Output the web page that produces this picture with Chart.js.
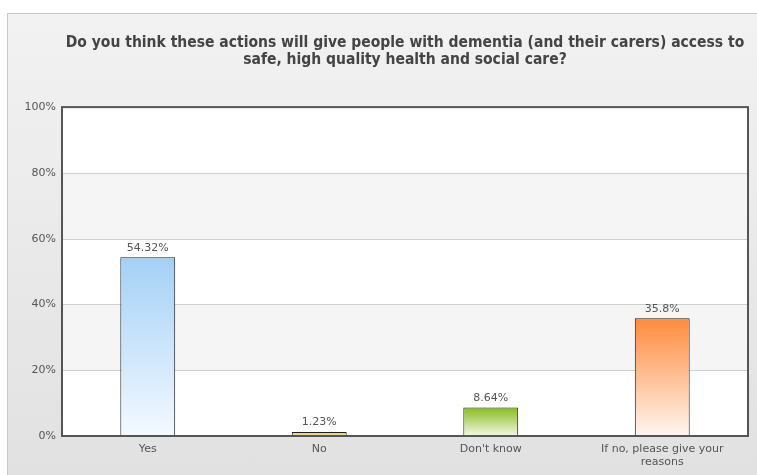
<!DOCTYPE html>
<html>
<head>
<meta charset="utf-8">
<script src="https://cdn.jsdelivr.net/npm/chart.js@4/dist/chart.umd.min.js"></script>
<style>
  html, body { margin: 0; padding: 0; background: #fff; }
  #panel {
    position: absolute; left: 7px; top: 13px; width: 750px; height: 462px;
    border-left: 1px solid #c8c8c8; border-top: 1px solid #c8c8c8;
    background: linear-gradient(#f2f2f2, #e1e1e1);
  }
  #wrap { position: absolute; left: 0; top: 0; width: 749px; height: 461px; }
</style>
</head>
<body>
<div id="panel"><div id="wrap"><canvas id="chart"></canvas></div></div>
<script>
// chart data
const categories = ['Yes', 'No', "Don't know", ['If no, please give your', 'reasons']];
const values = [54.32, 1.23, 8.64, 35.8];
const topColors = ['#a4d0f5', '#e3c760', '#89bb1c', '#ff8a3c'];
const bottomColors = ['#f4f9ff', '#f3e6a8', '#f3f8e6', '#fff6f0'];
const yTicks = [0, 20, 40, 60, 80, 100];
const titleLines = ['Do you think these actions will give people with dementia (and their carers) access to',
                    'safe, high quality health and social care?'];

const labelFont = '11px "DejaVu Sans", Verdana, sans-serif';

// white/grey bands + frame
const bandsPlugin = {
    id: 'bands',
    beforeDatasetsDraw(chart) {
        const { ctx, chartArea: a, scales: { y } } = chart;
        ctx.save();
        for (let i = 0; i < yTicks.length - 1; i++) {
            const y0 = y.getPixelForValue(yTicks[i]);
            const y1 = y.getPixelForValue(yTicks[i + 1]);
            ctx.fillStyle = i % 2 === 1 ? '#f5f5f5' : '#ffffff';
            ctx.fillRect(a.left, y1, a.right - a.left, y0 - y1);
            if (i > 0) {
                ctx.strokeStyle = '#cfcfcf';
                ctx.lineWidth = 1;
                ctx.beginPath();
                ctx.moveTo(a.left, Math.round(y0) + 0.5);
                ctx.lineTo(a.right, Math.round(y0) + 0.5);
                ctx.stroke();
            }
        }
        ctx.restore();
    },
    afterDatasetsDraw(chart) {
        const { ctx, chartArea: a } = chart;
        ctx.save();
        // value labels over bars
        ctx.font = labelFont;
        ctx.fillStyle = '#555';
        ctx.textAlign = 'center';
        ctx.textBaseline = 'bottom';
        chart.getDatasetMeta(0).data.forEach((bar, i) => {
            ctx.fillText(values[i] + '%', bar.x, bar.y - 4);
        });
        // frame
        ctx.strokeStyle = '#555';
        ctx.lineWidth = 2;
        ctx.strokeRect(a.left, a.top, a.right - a.left, a.bottom - a.top);
        ctx.restore();
    }
};

function barGradient(context) {
    const chart = context.chart;
    const i = context.dataIndex;
    if (!chart.chartArea || i === undefined) return topColors[i || 0];
    const y = chart.scales.y;
    const top = y.getPixelForValue(values[i]);
    const bottom = y.getPixelForValue(0);
    const g = chart.ctx.createLinearGradient(0, top, 0, bottom);
    g.addColorStop(0, topColors[i]);
    g.addColorStop(1, bottomColors[i]);
    return g;
}

new Chart(document.getElementById('chart'), {
    type: 'bar',
    data: {
        labels: categories,
        datasets: [{
            data: values,
            backgroundColor: barGradient,
            borderColor: '#1e1e1e',
            borderWidth: 1,
            categoryPercentage: 1,
            barPercentage: 0.32
        }]
    },
    plugins: [bandsPlugin],
    options: {
        responsive: true,
        maintainAspectRatio: false,
        animation: false,
        layout: { padding: { left: 0, right: 9, top: 0, bottom: 0 } },
        plugins: {
            legend: { display: false },
            tooltip: { enabled: false },
            title: {
                display: true,
                fullSize: false,
                text: titleLines,
                color: '#444',
                font: { family: '"DejaVu Sans Condensed", Tahoma, sans-serif', size: 15.5, weight: 'bold', lineHeight: 1.1 },
                padding: { top: 20, bottom: 39 }
            }
        },
        scales: {
            x: {
                grid: { display: false, drawTicks: false },
                border: { display: false },
                ticks: { color: '#555', font: { family: '"DejaVu Sans", Verdana, sans-serif', size: 11, lineHeight: 1.25 }, maxRotation: 0, padding: 6 },
                afterFit(s) { s.height = 39; }
            },
            y: {
                min: 0,
                max: 100,
                afterBuildTicks(s) { s.ticks = yTicks.map(v => ({ value: v })); },
                grid: { display: false, drawTicks: false },
                border: { display: false },
                ticks: {
                    color: '#555',
                    font: { family: '"DejaVu Sans", Verdana, sans-serif', size: 11 },
                    padding: 6,
                    callback: v => v + '%'
                },
                afterFit(s) { s.width = 54; }
            }
        }
    }
});
</script>
</body>
</html>
